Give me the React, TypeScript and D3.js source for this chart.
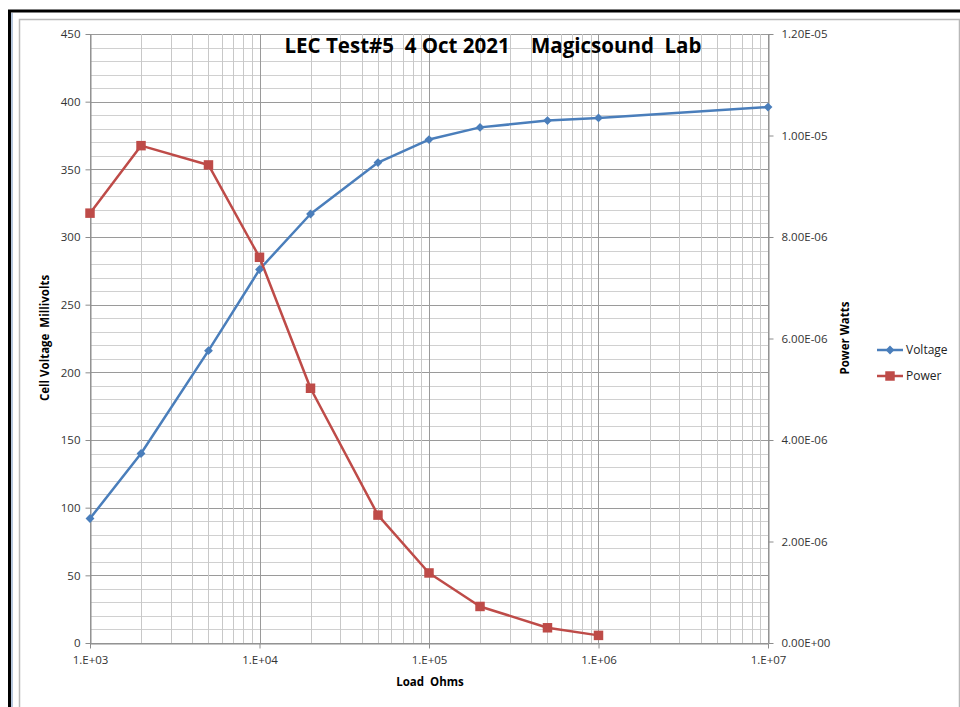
import { useEffect, useRef } from "react";
import * as d3 from "d3";

const loads = [1e3, 2e3, 5e3, 1e4, 2e4, 5e4, 1e5, 2e5, 5e5, 1e6, 1e7];
const voltage = [92, 140, 216, 276, 317, 355, 372, 381, 386, 388, 396];
const powerLoads = [1e3, 2e3, 5e3, 1e4, 2e4, 5e4, 1e5, 2e5, 5e5, 1e6];
const power = [8.47e-6, 9.8e-6, 9.42e-6, 7.6e-6, 5.02e-6, 2.52e-6, 1.38e-6, 0.72e-6, 0.3e-6, 0.15e-6];
const leftTicks = [0, 50, 100, 150, 200, 250, 300, 350, 400, 450];
const rightTicks = [0, 2e-6, 4e-6, 6e-6, 8e-6, 1e-5, 1.2e-5];
const xTicks = [1e3, 1e4, 1e5, 1e6, 1e7];

const W = 960;
const H = 707;
const FONT = "'Open Sans', 'Noto Sans', sans-serif";
const BLUE = "#4a7ebb";
const RED = "#be4b48";

export default function App() {
  const svgRef = useRef<SVGSVGElement | null>(null);

  useEffect(() => {
    if (!svgRef.current) return;
    const svg = d3.select(svgRef.current);
    svg.selectAll("*").remove();

    const m = { left: 90, right: 768, top: 34, bottom: 643 };

    const x = d3.scaleLog().domain([1e3, 1e7]).range([m.left, m.right]);
    const yL = d3.scaleLinear().domain([0, 450]).range([m.bottom, m.top]);
    const yR = d3.scaleLinear().domain([0, 1.2e-5]).range([m.bottom, m.top]);

    // frame
    svg.append("rect").attr("width", W).attr("height", H).attr("fill", "#fff");
    svg.append("line").attr("x1", 8).attr("x2", W).attr("y1", 11).attr("y2", 11)
      .attr("stroke", "#000").attr("stroke-width", 3);
    svg.append("line").attr("x1", 9.5).attr("x2", 9.5).attr("y1", 10).attr("y2", H)
      .attr("stroke", "#000").attr("stroke-width", 3);
    svg.append("line").attr("x1", 12).attr("x2", 12).attr("y1", 13).attr("y2", H)
      .attr("stroke", "#9fb6d3").attr("stroke-width", 1.5);
    svg.append("path").attr("d", `M19.5,${H} V19.5 H959.5 V${H}`)
      .attr("fill", "none").attr("stroke", "#b8b8b8").attr("stroke-width", 1.5);

    const grid = svg.append("g");

    // horizontal grid every 10, darker every 50
    d3.range(0, 451, 10).forEach((v) => {
      const major = v % 50 === 0;
      grid.append("line")
        .attr("x1", m.left).attr("x2", m.right)
        .attr("y1", Math.round(yL(v)) + 0.5).attr("y2", Math.round(yL(v)) + 0.5)
        .attr("stroke", major ? "#9a9a9a" : "#d0d0d0")
        .attr("stroke-width", 1);
    });

    // vertical log grid
    const minor: number[] = [];
    for (let e = 3; e < 7; e++) {
      for (let k = 2; k <= 9; k++) minor.push(k * Math.pow(10, e));
    }
    minor.forEach((v) => {
      grid.append("line")
        .attr("x1", Math.round(x(v)) + 0.5).attr("x2", Math.round(x(v)) + 0.5)
        .attr("y1", m.top).attr("y2", m.bottom)
        .attr("stroke", "#c8c8c8").attr("stroke-width", 1);
    });
    xTicks.forEach((v) => {
      grid.append("line")
        .attr("x1", Math.round(x(v)) + 0.5).attr("x2", Math.round(x(v)) + 0.5)
        .attr("y1", m.top).attr("y2", m.bottom)
        .attr("stroke", "#9a9a9a").attr("stroke-width", 1);
    });

    // axes
    const axisColor = "#8c8c8c";
    const styleAxis = (g: d3.Selection<SVGGElement, unknown, null, undefined>) => {
      g.select(".domain").attr("stroke", axisColor);
      g.selectAll(".tick line").attr("stroke", axisColor);
      g.selectAll(".tick text")
        .attr("fill", "#333")
        .attr("font-size", 11.5)
        .attr("font-family", FONT);
    };

    svg.append("g")
      .attr("transform", `translate(${m.left + 0.5},0)`)
      .call(d3.axisLeft(yL).tickValues(leftTicks).tickSize(5).tickPadding(5).tickSizeOuter(0))
      .call(styleAxis);

    svg.append("g")
      .attr("transform", `translate(${m.right + 0.5},0)`)
      .call(
        d3.axisRight(yR).tickValues(rightTicks).tickSize(5).tickPadding(8).tickSizeOuter(0)
          .tickFormat((d) => {
            const s = (d as number).toExponential(2).toUpperCase();
            return s.replace(/E([+-])(\d)$/, "E$10$2");
          })
      )
      .call(styleAxis);

    svg.append("g")
      .attr("transform", `translate(0,${m.bottom + 0.5})`)
      .call(
        d3.axisBottom(x).tickValues(xTicks).tickSize(5).tickPadding(7).tickSizeOuter(0)
          .tickFormat((d) => `1.E+${String(Math.round(Math.log10(d as number))).padStart(2, "0")}`)
      )
      .call(styleAxis);

    // series
    const vLine = d3.line<number>()
      .x((_, i) => x(loads[i]))
      .y((d) => yL(d));
    svg.append("path")
      .attr("d", vLine(voltage))
      .attr("fill", "none").attr("stroke", BLUE).attr("stroke-width", 2.5)
      .attr("stroke-linejoin", "round");

    const pLine = d3.line<number>()
      .x((_, i) => x(powerLoads[i]))
      .y((d) => yR(d));
    svg.append("path")
      .attr("d", pLine(power))
      .attr("fill", "none").attr("stroke", RED).attr("stroke-width", 2.5)
      .attr("stroke-linejoin", "round");

    const diamond = d3.symbol().type(d3.symbolDiamond2).size(50);
    const square = d3.symbol().type(d3.symbolSquare).size(90);

    svg.append("g").selectAll("path")
      .data(voltage)
      .join("path")
      .attr("d", diamond)
      .attr("transform", (d, i) => `translate(${x(loads[i])},${yL(d)})`)
      .attr("fill", BLUE);

    svg.append("g").selectAll("path")
      .data(power)
      .join("path")
      .attr("d", square)
      .attr("transform", (d, i) => `translate(${x(powerLoads[i])},${yR(d)})`)
      .attr("fill", RED);

    // title
    svg.append("text")
      .attr("x", 493).attr("y", 53)
      .attr("text-anchor", "middle")
      .attr("font-family", FONT)
      .attr("font-weight", "bold")
      .attr("font-size", 20.5)
      .attr("fill", "#000")
      .style("white-space", "pre")
      .text("LEC Test#5  4 Oct 2021    Magicsound  Lab");

    // axis titles
    svg.append("text")
      .attr("x", 430).attr("y", 686)
      .attr("text-anchor", "middle")
      .attr("font-family", FONT).attr("font-weight", "bold").attr("font-size", 11.5)
      .style("white-space", "pre")
      .text("Load  Ohms");

    svg.append("text")
      .attr("transform", `translate(49,338) rotate(-90)`)
      .attr("text-anchor", "middle")
      .attr("font-family", FONT).attr("font-weight", "bold").attr("font-size", 11.5)
      .style("white-space", "pre")
      .text("Cell Voltage  Millivolts");

    svg.append("text")
      .attr("transform", `translate(849,338) rotate(-90)`)
      .attr("text-anchor", "middle")
      .attr("font-family", FONT).attr("font-weight", "bold").attr("font-size", 11.5)
      .text("Power Watts");

    // legend
    const legend = svg.append("g").attr("transform", "translate(877,0)");
    const items = [
      { label: "Voltage", color: BLUE, sym: diamond, y: 350 },
      { label: "Power", color: RED, sym: square, y: 376 },
    ];
    items.forEach((it) => {
      legend.append("line")
        .attr("x1", 0).attr("x2", 26).attr("y1", it.y).attr("y2", it.y)
        .attr("stroke", it.color).attr("stroke-width", 2.5);
      legend.append("path")
        .attr("d", it.sym)
        .attr("transform", `translate(13,${it.y})`)
        .attr("fill", it.color);
      legend.append("text")
        .attr("x", 29).attr("y", it.y + 4)
        .attr("font-family", FONT).attr("font-size", 12).attr("fill", "#222")
        .text(it.label);
    });
  }, []);

  return (
    <svg
      ref={svgRef}
      width={W}
      height={H}
      viewBox={`0 0 ${W} ${H}`}
      style={{ position: "absolute", left: 0, top: 0, display: "block" }}
    />
  );
}
